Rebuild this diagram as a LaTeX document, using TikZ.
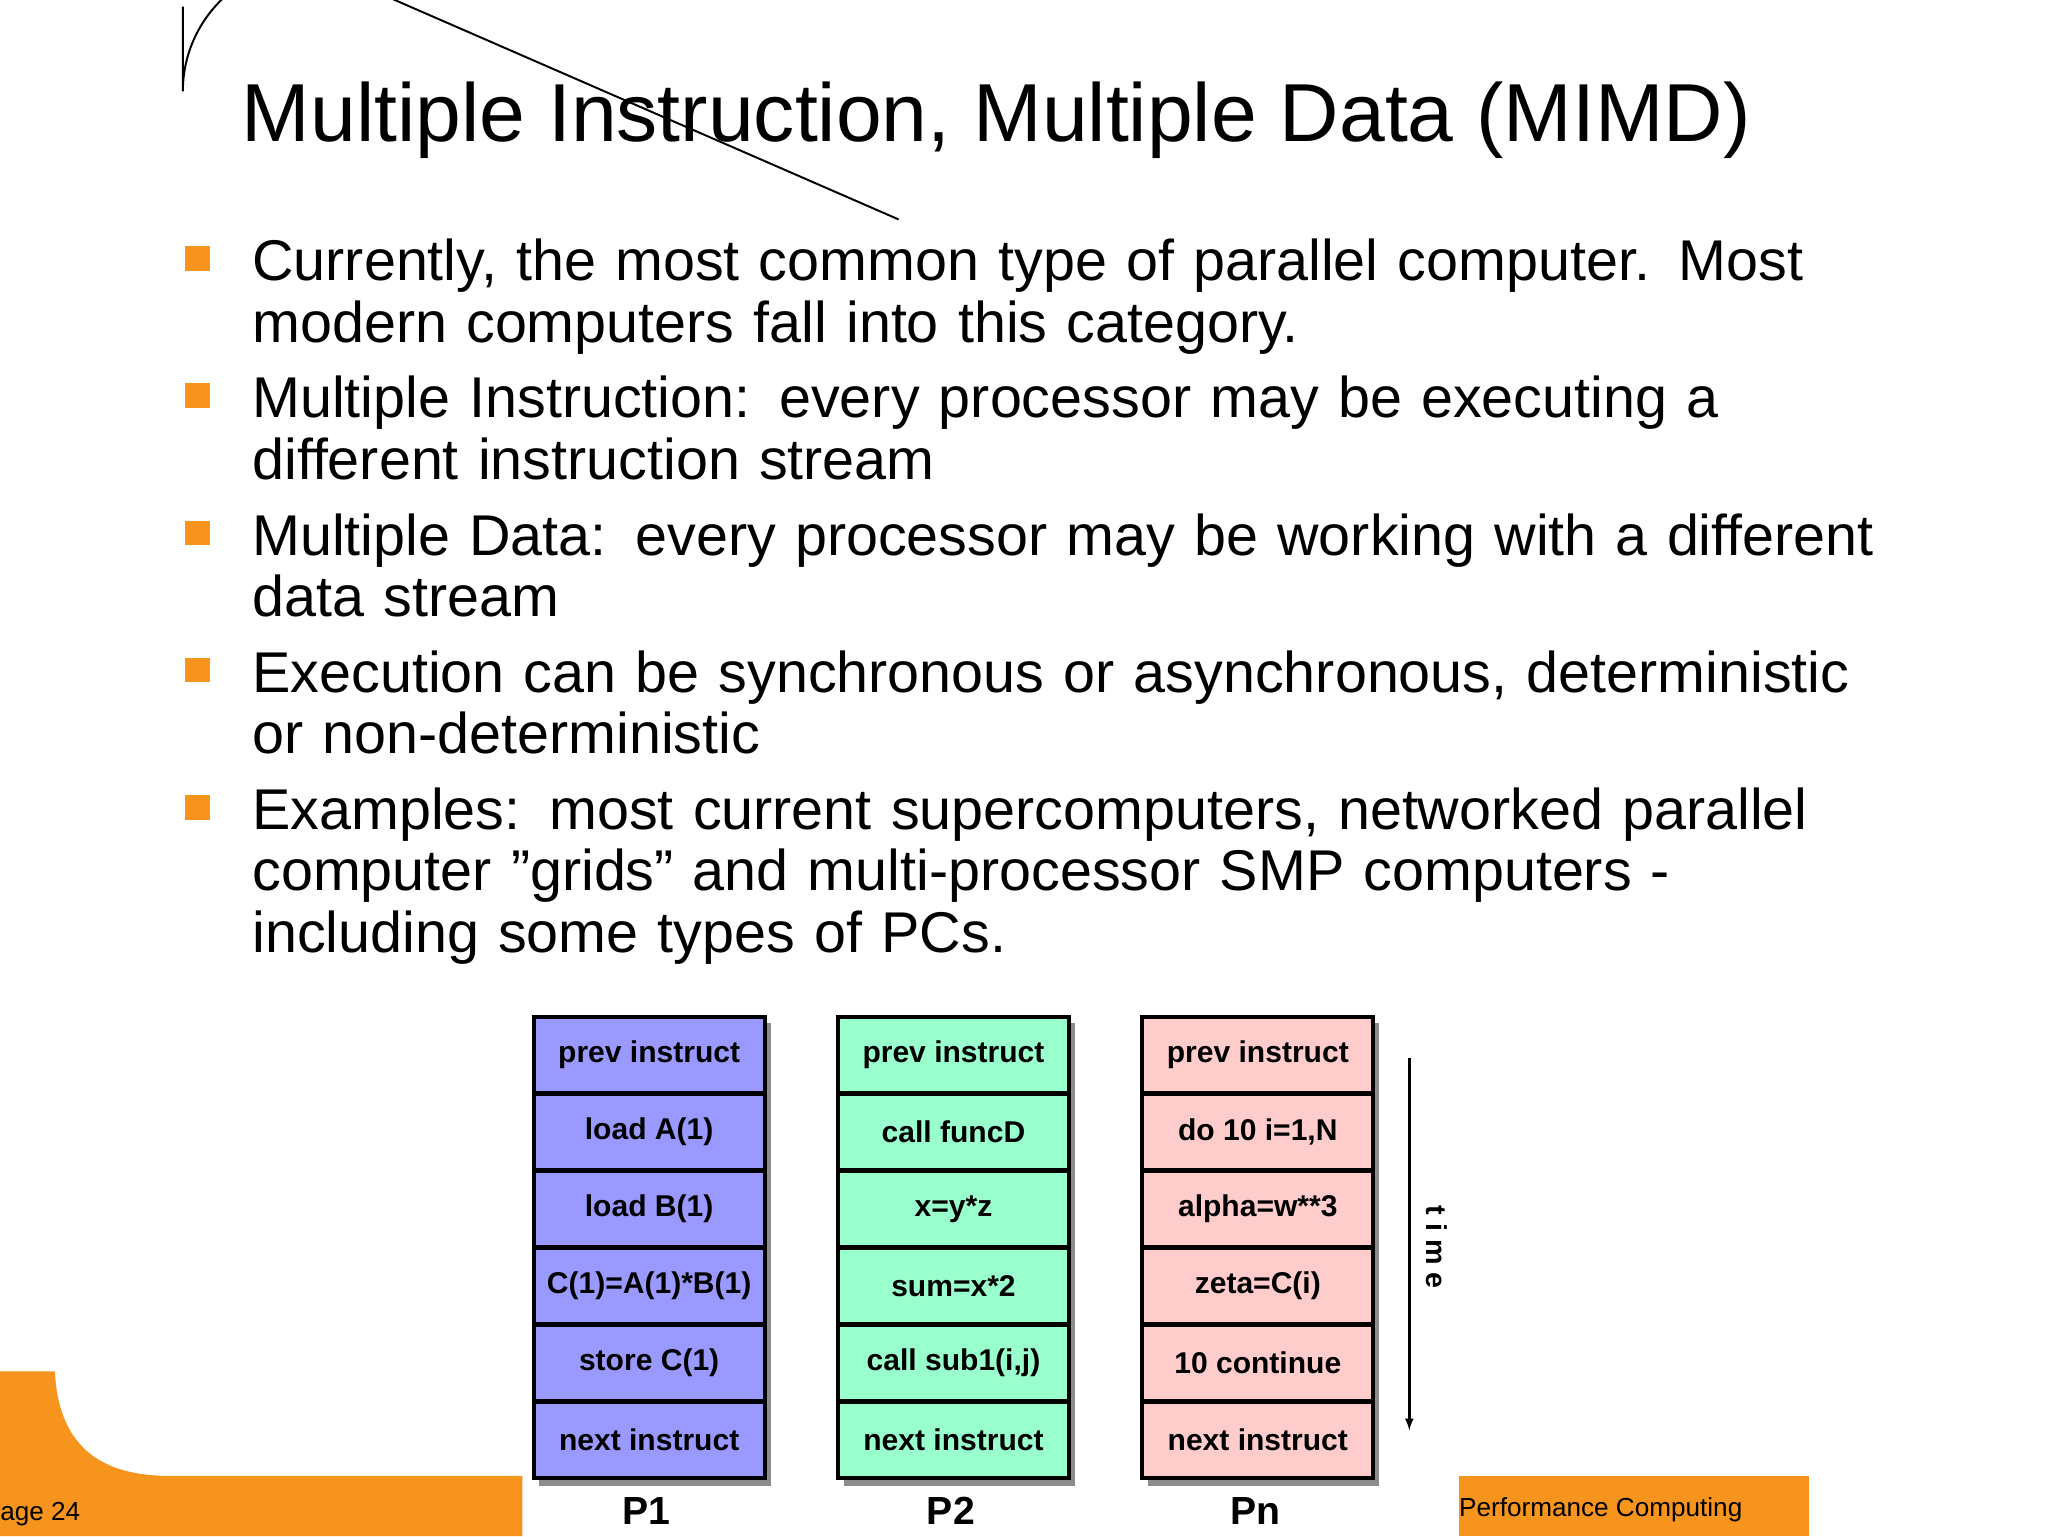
\documentclass[tikz,border=0pt]{standalone}
\usepackage{fontspec}
\setmainfont{Liberation Sans}
\definecolor{orng}{HTML}{F7941D}
\definecolor{cA}{HTML}{9999FF}
\definecolor{cB}{HTML}{99FFCC}
\definecolor{cC}{HTML}{FFCCCC}
\begin{document}
\begin{tikzpicture}[x=1pt,y=-1pt,
  cell/.style={draw=black,line width=3pt,minimum width=177pt,minimum height=58pt,inner sep=0pt,font=\fontsize{23}{25}\selectfont\bfseries,anchor=north west},
  btxt/.style={anchor=base west,font=\fontsize{44}{47}\selectfont,align=left,text width=1300pt,inner sep=0pt},
  bul/.style={fill=orng,minimum size=19pt,inner sep=0pt}]
\useasboundingbox (0,0) rectangle (1568,1176);
\fill[white] (0,0) rectangle (1568,1176);
% title decoration
\draw[line width=1.5pt] (140,5) -- (140,70) arc[start angle=180,end angle=270,radius=98] -- (688,168);
\node[anchor=base west,inner sep=0pt,font=\fontsize{63}{66}\selectfont] (title) at (185,108) {Multiple Instruction, Multiple Data (MIMD)};
% bullets
\foreach \y/\t [count=\i] in {215/{Currently, the most common type of parallel computer. Most\\modern computers fall into this category.},
  320/{Multiple Instruction: every processor may be executing a\\different instruction stream},
  425/{Multiple Data: every processor may be working with a different\\data stream},
  530/{Execution can be synchronous or asynchronous, deterministic\\or non-deterministic},
  635/{Examples: most current supercomputers, networked parallel\\computer "grids" and multi-processor SMP computers -\\including some types of PCs.}}{
  \node[bul] (b\i) at (151,\y-17) {};
  \node[btxt] (t\i) at (193,\y) {\t};
}
% footer
\fill[orng] (0,1050) -- (42,1050) .. controls (45,1110) and (80,1130) .. (130,1130) -- (400,1130) -- (400,1176) -- (0,1176) -- cycle;
\fill[orng] (1117,1130) rectangle (1385,1176);
\node[anchor=base west,inner sep=0pt,font=\fontsize{20}{22}\selectfont] (pg) at (0,1164) {age 24};
\node[anchor=base west,inner sep=0pt,font=\fontsize{20}{22}\selectfont] (pc) at (1117,1161) {Performance Computing};
% columns
\foreach \x/\c/\lab/\n/\la/\lb/\lc/\ld/\le/\lf in {
  407/cA/P1/p/{prev instruct}/{load A(1)}/{load B(1)}/{C(1)=A(1)*B(1)}/{store C(1)}/{next instruct},
  640/cB/P2/q/{prev instruct}/{call funcD}/{x=y*z}/{sum=x*2}/{call sub1(i,j)}/{next instruct},
  873/cC/Pn/r/{prev instruct}/{do 10 i=1,N}/{alpha=w**3}/{zeta=C(i)}/{10 continue}/{next instruct}}{
  \fill[black!45] (\x+6,783) rectangle (\x+183,1138);
  \node[cell,fill=\c] (\n1) at (\x,777) {\la};
  \node[cell,fill=\c] (\n2) at (\x,836) {\lb};
  \node[cell,fill=\c] (\n3) at (\x,895) {\lc};
  \node[cell,fill=\c] (\n4) at (\x,954) {\ld};
  \node[cell,fill=\c] (\n5) at (\x,1013) {\le};
  \node[cell,fill=\c] (\n6) at (\x,1072) {\lf};
  \node[font=\fontsize{30}{32}\selectfont\bfseries,inner sep=0pt] (\n l) at (\x+88,1157) {\lab};
}
% time arrow
\coordinate (ta) at (1079,810);
\coordinate (tb) at (1079,1095);
\draw[line width=2pt,-{latex}] (ta) -- (tb);
\node[rotate=-90,font=\fontsize{22}{24}\selectfont\bfseries,inner sep=0pt] (time) at (1100,955) {t i m e};
\end{tikzpicture}
\end{document}
